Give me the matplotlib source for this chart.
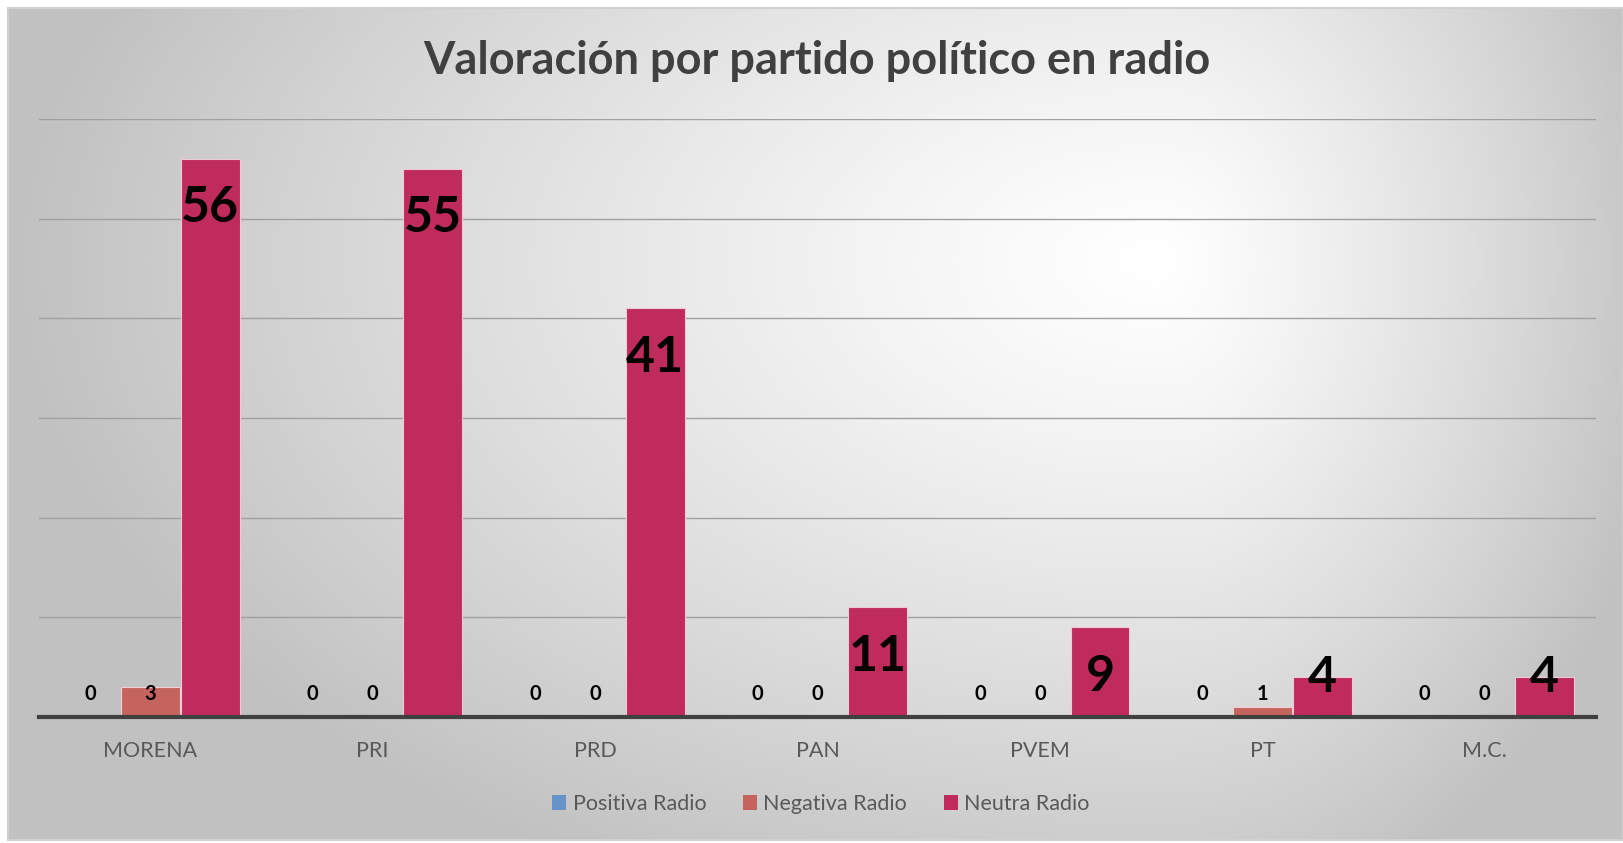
import numpy as np
import matplotlib
matplotlib.use("Agg")
import matplotlib.pyplot as plt
from matplotlib.patches import Patch

plt.rcParams['font.family'] = ['Lato', 'DejaVu Sans']

categories = ["MORENA", "PRI", "PRD", "PAN", "PVEM", "PT", "M.C."]
positiva = [0, 0, 0, 0, 0, 0, 0]
negativa = [3, 0, 0, 0, 0, 1, 0]
neutra = [56, 55, 41, 11, 9, 4, 4]
series_names = ["Positiva Radio", "Negativa Radio", "Neutra Radio"]
title = "Valoración por partido político en radio"

W, H = 1623, 843
fig = plt.figure(figsize=(W / 100, H / 100), dpi=100)
fig.patch.set_facecolor("white")

# chart background with radial-ish gradient
bx0, by0, bx1, by1 = 8, 8, 1623, 840
bg = fig.add_axes([bx0 / W, 1 - by1 / H, (bx1 - bx0) / W, (by1 - by0) / H])
nx, ny = 400, 220
xs = np.linspace(bx0, bx1, nx)
ys = np.linspace(by0, by1, ny)
X, Y = np.meshgrid(xs, ys)
cx, cy = 1160, 260
rx = np.where(X < cx, 1150, 520)
ry = np.where(Y < cy, 650, 700)
d = np.sqrt(((X - cx) / rx) ** 2 + ((Y - cy) / ry) ** 2)
val = 255 - 62 * np.clip(d, 0, 1) ** 1.25
img = np.dstack([val, val, val]) / 255.0
bg.imshow(img, aspect="auto", extent=[0, 1, 0, 1], origin="upper")
bg.set_xlim(0, 1)
bg.set_ylim(0, 1)
for s in bg.spines.values():
    s.set_color("#D0D0D0")
    s.set_linewidth(1.5)
bg.set_xticks([])
bg.set_yticks([])

# main axes
left, right, base, top = 39, 1596, 717, 119
ax = fig.add_axes([left / W, 1 - base / H, (right - left) / W, (base - top) / H])
ax.set_facecolor("none")
ax.set_ylim(0, 60)
ax.set_xlim(-0.5, len(categories) - 0.5)

x = np.arange(len(categories))
width = 0.265
off = 0.27
colors = ["#6694C8", "#C5645F", "#C02B5E"]
ax.bar(x - off, positiva, width, color=colors[0], edgecolor="#F0D0DA", linewidth=0.8, zorder=3)
ax.bar(x, negativa, width, color=colors[1], edgecolor="#F0D0D0", linewidth=0.8, zorder=3)
ax.bar(x + off, neutra, width, color=colors[2], edgecolor="#F0C8D6", linewidth=0.8, zorder=3)

ax.set_yticks(np.arange(0, 61, 10))
ax.yaxis.grid(True, color="#A0A0A0", linewidth=1.0, zorder=0)
ax.tick_params(axis="y", left=False, labelleft=False)
ax.tick_params(axis="x", bottom=False, labelsize=15.5, labelcolor="#595959", pad=14)
ax.set_xticks(x)
ax.set_xticklabels(categories)
for s in ["top", "right", "left"]:
    ax.spines[s].set_visible(False)
ax.spines["bottom"].set_color("#404040")
ax.spines["bottom"].set_linewidth(3)
ax.spines["bottom"].set_zorder(4)

# small labels
for xi, v in zip(x - off, positiva):
    ax.text(xi, 2.3, str(v), ha="center", va="center", fontsize=14.5, fontweight="bold", color="black", zorder=5)
for xi, v in zip(x, negativa):
    ax.text(xi, 2.3, str(v), ha="center", va="center", fontsize=14.5, fontweight="bold", color="black", zorder=5)
# big labels
for xi, v in zip(x + off, neutra):
    yc = v - 4.9 if v - 4.9 > 4.0 else v
    ax.text(xi, yc, str(v), ha="center", va="center", fontsize=36, fontweight="bold", color="black", zorder=5)

fig.text(817 / W, 1 - 61 / H, title, ha="center", va="center", fontsize=32.5, fontweight="bold", color="#404040")

handles = [Patch(facecolor=c, edgecolor="none") for c in colors]
fig.legend(handles, series_names, loc="center", bbox_to_anchor=(821 / W, 1 - 804 / H), ncol=3,
           frameon=False, fontsize=15.5, labelcolor="#595959", handlelength=0.65, handleheight=0.65,
           handletextpad=0.3, columnspacing=1.7)

fig.savefig("out.png", dpi=100)
